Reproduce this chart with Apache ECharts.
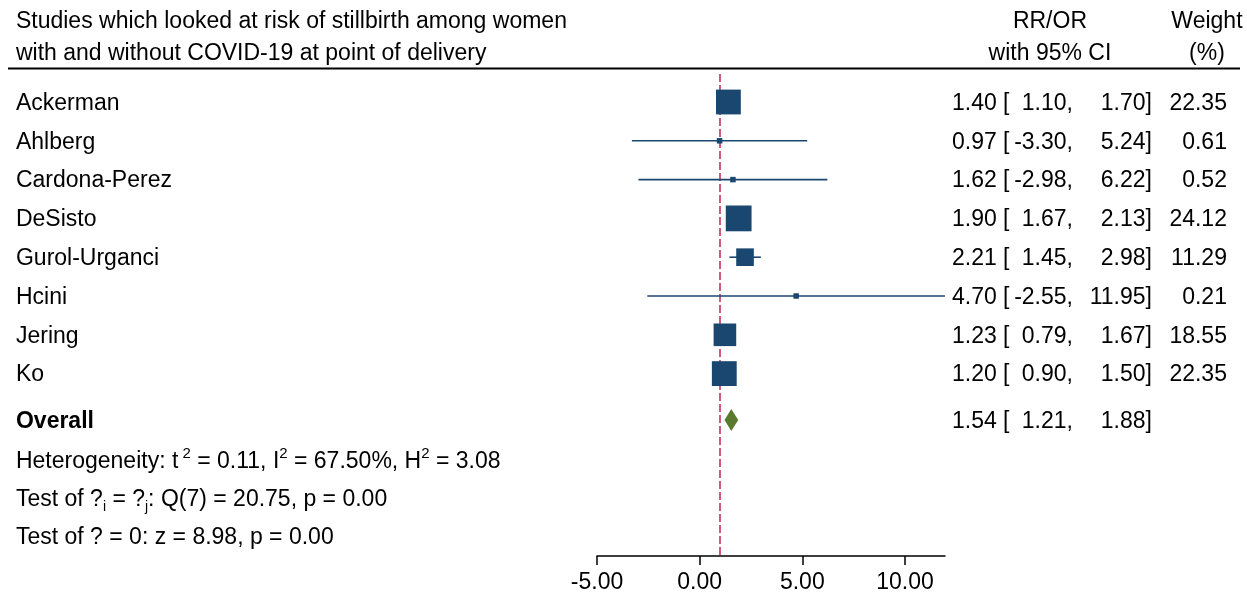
<!DOCTYPE html>
<html><head><meta charset="utf-8">
<script src="https://cdn.jsdelivr.net/npm/echarts@6/dist/echarts.min.js"></script>
<style>html,body{margin:0;padding:0;background:#fff}#c{width:1247px;height:595px}</style>
</head><body><div id="c"></div>
<script>
// ---------------- data ----------------
const studies = ['Ackerman','Ahlberg','Cardona-Perez','DeSisto','Gurol-Urganci','Hcini','Jering','Ko'];
const est     = [1.40, 0.97, 1.62, 1.90, 2.21, 4.70, 1.23, 1.20];
const lower   = [1.10, -3.30, -2.98, 1.67, 1.45, -2.55, 0.79, 0.90];
const upper   = [1.70, 5.24, 6.22, 2.13, 2.98, 11.95, 1.67, 1.50];
const weights = [22.35, 0.61, 0.52, 24.12, 11.29, 0.21, 18.55, 22.35];
const overallEst = 1.54, overallLower = 1.21, overallUpper = 1.88;
const xTicks = [-5, 0, 5, 10];
const headerLeft = ['Studies which looked at risk of stillbirth among women', 'with and without COVID-19 at point of delivery'];
const headerEst = ['RR/OR', 'with 95% CI'];
const headerW = ['Weight', '(%)'];
const tau2 = '0.11', I2 = '67.50', H2 = '3.08';
const Qdf = 7, Qval = '20.75', pQ = '0.00';
const zval = '8.98', pz = '0.00';

// ---------------- layout / style ----------------
const FONT = '"Liberation Sans", Arial, Helvetica, sans-serif';
const FS = 23;
const NAVY = '#1a476f', GREEN = '#5b7a30', RED = '#c4355c';
const ROW0 = 102, ROWH = 38.8;          // pixel y of first row, row pitch
const PLOT_TOP = 74, AXIS_Y = 556, H = 595;
const TXT_OFF = 1.5;
const toRow = px => (px - ROW0) / ROWH;
const OVERALL_ROW = toRow(420);
const statRows = [toRow(460), toRow(498), toRow(536)];
const headRows = [toRow(20), toRow(52)];
const NAME_X = 16, EST_X = 952, LO_X = 1073, HI_X = 1152, W_X = 1227, HEST_X = 1050, HW_X = 1207;

const fmt = v => v.toFixed(2);

function textSeries(data, align, labelExtra) {
  return {
    type: 'scatter', xAxisIndex: 0, yAxisIndex: 0, silent: true,
    symbolSize: 0.1, itemStyle: { color: 'transparent', opacity: 1 },
    data: data,
    label: Object.assign({
      show: true, position: [0, 0], align: align, verticalAlign: 'middle',
      offset: [0, TXT_OFF], opacity: 1,
      color: '#000', fontSize: FS, fontFamily: FONT,
      formatter: p => p.data[2]
    }, labelExtra || {})
  };
}

const allRowsEst = est.concat([overallEst]);
const allRowsLo = lower.concat([overallLower]);
const allRowsHi = upper.concat([overallUpper]);
const allRowIdx = studies.map((_, i) => i).concat([OVERALL_ROW]);

const series = [
  // left column: study names
  textSeries(studies.map((s, i) => [NAME_X, i, s]), 'left'),
  textSeries([[NAME_X, OVERALL_ROW, 'Overall']], 'left', { fontWeight: 'bold' }),
  // header
  textSeries(headerLeft.map((s, i) => [NAME_X, headRows[i], s]), 'left'),
  textSeries(headerEst.map((s, i) => [HEST_X, headRows[i], s]), 'center'),
  textSeries(headerW.map((s, i) => [HW_X, headRows[i], s]), 'center'),
  // estimates
  textSeries(allRowsEst.map((v, i) => [EST_X, allRowIdx[i], fmt(v) + ' [']), 'left'),
  textSeries(allRowsLo.map((v, i) => [LO_X, allRowIdx[i], fmt(v) + ',']), 'right'),
  textSeries(allRowsHi.map((v, i) => [HI_X, allRowIdx[i], fmt(v) + ']']), 'right'),
  textSeries(weights.map((v, i) => [W_X, i, fmt(v)]), 'right'),
  // stats lines
  textSeries([
      [NAME_X, statRows[0], 'Heterogeneity: t{sup| 2} = ' + tau2 + ', I{sup|2} = ' + I2 + '%, H{sup|2} = ' + H2],
      [NAME_X, statRows[1], 'Test of ?{sub|i} = ?{sub|j}: Q(' + Qdf + ') = ' + Qval + ', p = ' + pQ],
      [NAME_X, statRows[2], 'Test of ? = 0: z = ' + zval + ', p = ' + pz]
    ], 'left', {
      lineHeight: 30,
      rich: {
        sup: { fontSize: 15, fontFamily: FONT, color: '#000', verticalAlign: 'top', lineHeight: 14 },
        sub: { fontSize: 14, fontFamily: FONT, color: '#000', verticalAlign: 'bottom', lineHeight: 17 }
      }
    }),
  // CI lines + reference line
  {
    type: 'custom', xAxisIndex: 1, yAxisIndex: 1, silent: true, z: 2,
    data: studies.map((_, i) => [lower[i], upper[i], i]),
    encode: { x: [0, 1], y: 2 },
    renderItem: (params, api) => {
      const a = api.coord([api.value(0), api.value(2)]);
      const b = api.coord([api.value(1), api.value(2)]);
      return { type: 'line', shape: { x1: a[0], y1: a[1], x2: b[0], y2: b[1] },
               style: { stroke: NAVY, lineWidth: 1.6 } };
    },
    markLine: {
      silent: true, symbol: 'none', z: 1,
      label: { show: false },
      lineStyle: { color: RED, width: 1.6, type: [8, 3], opacity: 1 },
      data: [{ xAxis: 1 }]
    }
  },
  // squares
  {
    type: 'scatter', xAxisIndex: 1, yAxisIndex: 1, silent: true, z: 4,
    symbol: 'rect',
    data: studies.map((_, i) => [est[i], i, weights[i]]),
    symbolSize: d => Math.max(5.5, 5.25 * Math.sqrt(d[2])),
    itemStyle: { color: NAVY, opacity: 1 }
  },
  // overall diamond
  {
    type: 'custom', xAxisIndex: 1, yAxisIndex: 1, silent: true, z: 4,
    data: [[overallLower, overallUpper, overallEst, OVERALL_ROW]],
    encode: { x: [0, 1], y: 3 },
    renderItem: (params, api) => {
      const l = api.coord([api.value(0), api.value(3)]);
      const r = api.coord([api.value(1), api.value(3)]);
      const c = api.coord([api.value(2), api.value(3)]);
      const h = 11;
      return { type: 'polygon',
        shape: { points: [[l[0], l[1]], [c[0], c[1] - h], [r[0], r[1]], [c[0], c[1] + h]] },
        style: { fill: GREEN } };
    }
  }
];

const option = {
  animation: false,
  backgroundColor: '#fff',
  grid: [
    { left: 0, right: 0, top: 0, bottom: H - AXIS_Y },
    { left: 597, right: 1247 - 945, top: PLOT_TOP, bottom: H - AXIS_Y }
  ],
  xAxis: [
    { gridIndex: 0, type: 'value', min: 0, max: 1247, show: false },
    { gridIndex: 1, type: 'value', min: -5, max: 11.95, interval: 5,
      splitLine: { show: false },
      axisLine: { show: true, onZero: false, lineStyle: { color: '#000', width: 1.5 } },
      axisTick: { show: true, length: 9, customValues: xTicks, lineStyle: { color: '#000', width: 1.5 } },
      axisLabel: { customValues: xTicks, formatter: v => v.toFixed(2), color: '#000',
                   fontSize: FS, fontFamily: FONT, margin: 15 } }
  ],
  yAxis: [
    { gridIndex: 0, type: 'value', inverse: true, min: toRow(0), max: toRow(AXIS_Y), show: false },
    { gridIndex: 1, type: 'value', inverse: true, min: toRow(PLOT_TOP), max: toRow(AXIS_Y), show: false }
  ],
  graphic: [
    { type: 'line', shape: { x1: 8, y1: 68.5, x2: 1240, y2: 68.5 }, style: { stroke: '#000', lineWidth: 2 }, silent: true }
  ],
  series: series
};

const chart = echarts.init(document.getElementById('c'));
chart.setOption(option);
</script>
</body></html>
